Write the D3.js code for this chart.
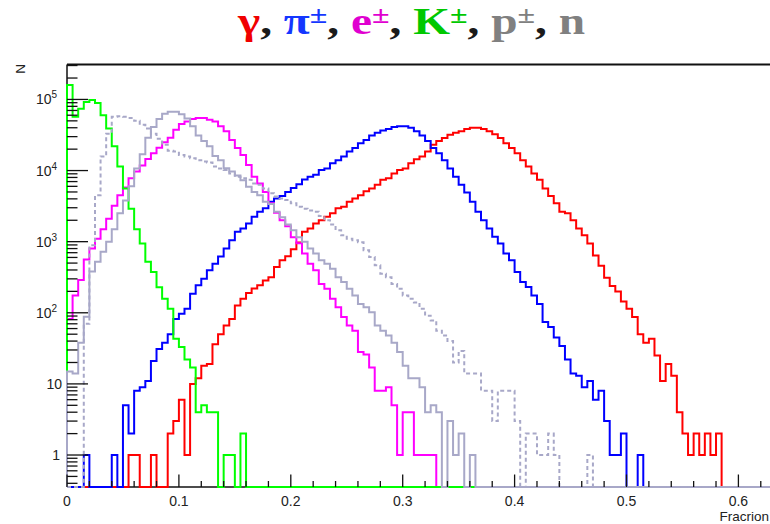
<!DOCTYPE html>
<html>
<head>
<meta charset="utf-8">
<script src="https://cdn.jsdelivr.net/npm/d3@7"></script>
<style>
  body { margin: 0; background: #fff; }
  svg { display: block; }
</style>
</head>
<body>
<svg id="chart" width="770" height="524"></svg>
<script>
// Histogram binning: 126 bins of width 0.005 over [0, 0.63)
const binWidth = 0.005;
const nBins = 126;

// Bin contents, starting at bin 0; bins not listed are empty
const gammaCounts = [0,0,0,0,0,0,0,0,0,0,0,1,1,0,0,1,0,0,2,3,6,1,10,12,18,19,36,50,66,82,
  127,157,190,220,243,285,317,440,550,625,780,970,1380,1530,1800,2000,2240,2500,2940,3100,
  3650,4050,4500,5100,5600,6300,7400,7800,9100,10200,10700,12700,14400,15800,18600,23000,26000,28600,32000,34000,
  35600,38500,40000,40000,38500,35600,32500,28600,24300,20700,17500,14000,11400,9100,7400,5600,4400,3460,2640,2500,
  2000,1530,1230,940,640,460,310,238,200,144,114,87,50,38,43,25,11,19,13,4,2,1,2,1,2,1,2];

const pionCounts = [0,0,0,1,0,0,0,0,1,0,5,2,8,9,11,21,31,38,50,82,
  97,114,185,243,300,395,490,620,800,1050,1380,1530,1800,2240,2640,2940,3650,4050,4400,5000,
  5700,6400,7500,8200,8700,10200,10700,12700,14000,15800,18600,20700,24300,27000,31000,34000,36700,38500,41000,42000,
  42000,40000,35600,31000,26000,20700,17500,14000,10700,8200,6300,4900,3650,2640,2000,1530,1170,940,680,550,
  375,270,230,175,133,74,63,45,34,22,14,13,9,11,6,8,3,1,1,2,0,0,1];

const electronCounts = [82,175,290,560,800,1100,1500,2100,3200,4500,5800,7800,9700,11800,14500,17500,21000,25000,29000,37500,
  45000,49000,53000,55000,55000,52000,49000,42000,35600,27000,20700,16600,12000,8200,6600,5000,3460,2550,2000,1650,
  1150,950,680,490,395,255,217,157,120,87,66,56,28,26,17,8,8,9,5,1,4,4,1,1,1,1];

const kaonCounts = [160000,57000,74000,92000,98000,89000,60000,39000,22000,11400,5600,2900,1500,940,520,374,229,157,114,43,
  33,22,17,4,5,4,4,0,1,1,0,2];

const protonCounts = [15,14,38,88,380,520,720,1000,1500,2500,3800,6000,10700,17000,29000,41000,53000,63000,67000,67000,
  62000,54000,42000,31000,26000,22000,16000,14000,10800,9700,8500,7300,5900,5000,4500,3650,3400,2640,2200,1750,
  1450,1150,1000,800,680,550,490,415,317,270,217,175,133,120,102,66,56,48,38,28,
  18,12,12,9,4,5,4,0,3,1,2,0,1];

const neutronCounts = [0,0,0,70,890,4500,15800,33000,57000,58000,57000,55000,50000,44000,39000,33000,28000,23000,19000,18500,
  16600,15800,14900,14000,13400,13000,11400,10700,10200,9100,8200,7800,7400,6600,6300,5600,4800,4300,4050,3850,
  3460,3100,2900,2750,2640,2300,2000,1750,1450,1230,1100,1050,980,755,610,465,355,317,255,217,
  175,157,140,114,91,78,56,48,40,20,29,14,14,14,8,8,3,8,8,8,
  3,0,2,2,1,1,2,1,0,0,0,0,0,1];

// Axis ticks
const xMajorTicks = [0, 0.1, 0.2, 0.3, 0.4, 0.5, 0.6];
const xMinorStep = 0.02;
const yDecades = [0, 1, 2, 3, 4, 5];

// Title pieces
const titleParts = [
  { t: "\u03b3", c: "#f00000" },
  { t: ", ", c: "#1a1a1a" },
  { t: "\u03c0", c: "#1437ff" },
  { t: "\u00b1", c: "#1437ff", sup: true },
  { t: ", ", c: "#1a1a1a" },
  { t: "e", c: "#e000d0" },
  { t: "\u00b1", c: "#e000d0", sup: true },
  { t: ", ", c: "#1a1a1a" },
  { t: "K", c: "#00c800" },
  { t: "\u00b1", c: "#00c800", sup: true },
  { t: ", ", c: "#1a1a1a" },
  { t: "p", c: "#808080" },
  { t: "\u00b1", c: "#808080", sup: true },
  { t: ", ", c: "#1a1a1a" },
  { t: "n", c: "#808080" }
];

// Series drawn in this order (later ones on top)
const series = [
  { name: "gamma", counts: gammaCounts, color: "#ff0000", dash: null },
  { name: "pion", counts: pionCounts, color: "#0000ff", dash: null },
  { name: "electron", counts: electronCounts, color: "#ff00ff", dash: null },
  { name: "kaon", counts: kaonCounts, color: "#00ff00", dash: null },
  { name: "proton", counts: protonCounts, color: "#a8a8c8", dash: null },
  { name: "neutron", counts: neutronCounts, color: "#a8a8c8", dash: "4,3" }
];

const svg = d3.select("#chart");
const plotLeft = 67, plotTop = 64.5, plotBottom = 487, plotRight = 772;
const x = d3.scaleLinear().domain([0, 0.63]).range([plotLeft, plotLeft + 0.63 * 1119]);
const yMin = 0.355, yMax = 3.1e5;
const y = d3.scaleLog().domain([yMin, yMax]).range([plotBottom, plotTop]);

// Frame lines
svg.append("line").attr("x1", plotLeft).attr("x2", plotRight).attr("y1", plotTop).attr("y2", plotTop)
  .attr("stroke", "#111").attr("stroke-width", 2);
svg.append("line").attr("x1", plotLeft).attr("x2", plotLeft).attr("y1", plotTop).attr("y2", plotBottom)
  .attr("stroke", "#111").attr("stroke-width", 1.5);
svg.append("line").attr("x1", plotLeft).attr("x2", plotRight).attr("y1", plotBottom).attr("y2", plotBottom)
  .attr("stroke", "#111").attr("stroke-width", 1.5);

// Clip for histograms
svg.append("defs").append("clipPath").attr("id", "plotClip")
  .append("rect").attr("x", plotLeft - 1).attr("y", plotTop)
  .attr("width", plotRight - plotLeft + 1).attr("height", plotBottom - plotTop + 1);

const line = d3.line().x(d => d[0]).y(d => d[1]);

function stepPoints(counts) {
  const pts = [[x(0), y(yMin)]];
  for (let i = 0; i < nBins; i++) {
    const v = i < counts.length ? counts[i] : 0;
    const yy = v > 0 ? y(v) : y(yMin);
    pts.push([x(i * binWidth), yy]);
    pts.push([x((i + 1) * binWidth), yy]);
  }
  return pts;
}

const gHist = svg.append("g").attr("clip-path", "url(#plotClip)");
series.forEach(s => {
  gHist.append("path")
    .attr("d", line(stepPoints(s.counts)))
    .attr("fill", "none")
    .attr("stroke", s.color)
    .attr("stroke-width", 2)
    .attr("stroke-linejoin", "miter")
    .attr("stroke-dasharray", s.dash);
});

// X axis ticks and labels
const gAx = svg.append("g");
const xMinor = d3.range(0, 0.6201, xMinorStep);
xMinor.forEach(v => {
  const isMajor = xMajorTicks.some(m => Math.abs(m - v) < 1e-9);
  gAx.append("line").attr("x1", x(v)).attr("x2", x(v))
    .attr("y1", plotBottom).attr("y2", plotBottom - (isMajor ? 12.5 : 6))
    .attr("stroke", "#111").attr("stroke-width", 1.3);
});
xMajorTicks.forEach(v => {
  gAx.append("text").attr("x", x(v)).attr("y", 505.5)
    .attr("text-anchor", "middle")
    .attr("font-family", "Liberation Sans, Arial, sans-serif")
    .attr("font-size", 14).attr("fill", "#222")
    .text(d3.format("~g")(v));
});
gAx.append("text").attr("x", 769).attr("y", 521)
  .attr("text-anchor", "end")
  .attr("font-family", "Liberation Sans, Arial, sans-serif")
  .attr("font-size", 13.5).attr("fill", "#222")
  .text("Fracrion");

// Y axis ticks (log) and labels
const yTickVals = [];
for (let e = -1; e <= 5; e++) {
  for (let m = 1; m <= 9; m++) {
    const v = m * Math.pow(10, e);
    if (v >= yMin && v <= yMax) yTickVals.push({ v, major: m === 1 });
  }
}
yTickVals.forEach(t => {
  gAx.append("line").attr("x1", plotLeft).attr("x2", plotLeft + (t.major ? 21 : 10.5))
    .attr("y1", y(t.v)).attr("y2", y(t.v))
    .attr("stroke", "#111").attr("stroke-width", 1.3);
});
yDecades.forEach(k => {
  const ty = y(Math.pow(10, k)) + 5;
  const txt = gAx.append("text")
    .attr("font-family", "Liberation Sans, Arial, sans-serif")
    .attr("font-size", 14).attr("fill", "#222");
  if (k === 0) {
    txt.attr("x", 60).attr("y", ty).attr("text-anchor", "end").text("1");
  } else if (k === 1) {
    txt.attr("x", 62).attr("y", ty).attr("text-anchor", "end").text("10");
  } else {
    txt.attr("x", 36).attr("y", ty).attr("text-anchor", "start");
    txt.append("tspan").text("10");
    txt.append("tspan").attr("dy", -6).attr("font-size", 10).text(String(k));
  }
});
gAx.append("text")
  .attr("transform", "translate(25,64) rotate(-90)")
  .attr("text-anchor", "end")
  .attr("font-family", "Liberation Sans, Arial, sans-serif")
  .attr("font-size", 13.5).attr("fill", "#222")
  .text("N");

// Title: bold serif, stretched horizontally to span 238..587
const titleLeft = 238, titleRight = 587, titleBaseline = 34;
const titleG = svg.append("g");
const title = titleG.append("text")
  .attr("x", 0).attr("y", 0)
  .attr("text-anchor", "start")
  .attr("font-family", "Liberation Serif, Times New Roman, serif")
  .attr("font-weight", "bold")
  .attr("font-size", 37);
let prevSup = false;
titleParts.forEach(p => {
  const ts = title.append("tspan").attr("fill", p.c).text(p.t);
  if (p.sup) { ts.attr("font-size", 25).attr("dy", -11); prevSup = true; }
  else if (prevSup) { ts.attr("dy", 11); prevSup = false; }
});
const tw = title.node().getComputedTextLength ? title.node().getBBox().width : 300;
const sx = (titleRight - titleLeft) / tw;
titleG.attr("transform", `translate(${titleLeft},${titleBaseline}) scale(${sx},1)`);
</script>
</body>
</html>
